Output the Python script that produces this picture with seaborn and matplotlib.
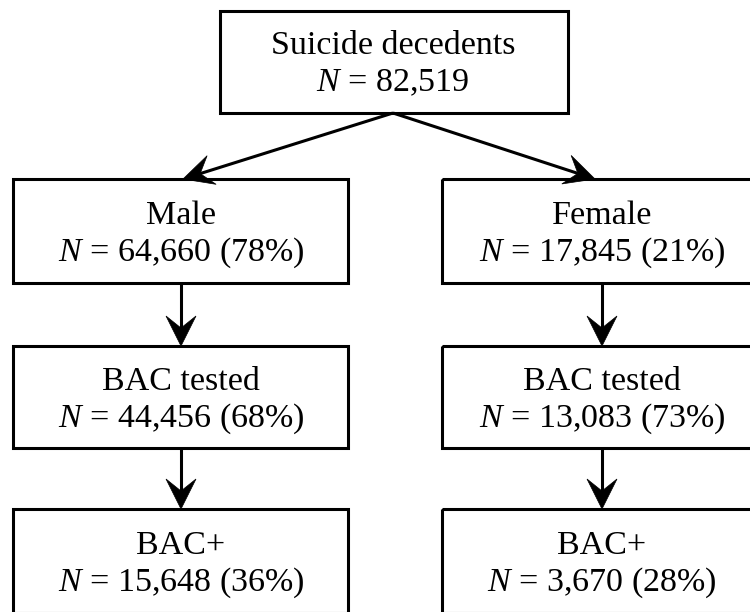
import numpy as np
import pandas as pd
import seaborn as sns
import matplotlib
matplotlib.use("Agg")
import matplotlib.pyplot as plt
from matplotlib.patches import Rectangle, Polygon

sns.set_theme(style="white")
plt.rcParams['font.family'] = ['Liberation Serif', 'DejaVu Serif']
plt.rcParams['mathtext.fontset'] = 'custom'
plt.rcParams['mathtext.rm'] = 'Liberation Serif'
plt.rcParams['mathtext.it'] = 'Liberation Serif:italic'

# ---- data ----
node_titles = ["Suicide decedents", "Male", "Female", "BAC tested", "BAC tested", "BAC+", "BAC+"]
node_counts = [82519, 64660, 17845, 44456, 13083, 15648, 3670]
node_pcts = [None, 78, 21, 68, 73, 36, 28]
edges = [(0, 1), (0, 2), (1, 3), (2, 4), (3, 5), (4, 6)]

# ---- layout (pixel space) ----
W, H = 750, 612
# node: (box_left, box_right, box_top, box_bottom, text_x)
boxes = {
    0: (220, 568, 11, 113, 393),
    1: (13, 348, 179, 283, 181),
    2: (442, 777, 179, 283, 602),
    3: (13, 348, 346, 448, 181),
    4: (442, 777, 346, 448, 602),
    5: (13, 348, 509, 613, 181),
    6: (442, 777, 509, 613, 602),
}
lw = 2.2
fs = 24.5

fig = plt.figure(figsize=(W / 100, H / 100), dpi=100)
ax = fig.add_axes([0, 0, 1, 1])
ax.set_xlim(0, W)
ax.set_ylim(H, 0)
ax.axis('off')

for i, (t, n, p) in enumerate(zip(node_titles, node_counts, node_pcts)):
    l, r, tp, bt, tx = boxes[i]
    ax.add_patch(Rectangle((l, tp), r - l, bt - tp, fill=False, ec='black', lw=lw, zorder=2))
    cy = (tp + bt) / 2
    line2 = r"$N$ = " + f"{n:,}" + ("" if p is None else f" ({p}%)")
    ax.text(tx, cy - 7.5, t, ha='center', va='baseline', fontsize=fs, color='black')
    ax.text(tx, cy + 29.5, line2, ha='center', va='baseline', fontsize=fs, color='black')


def arrow(x0, y0, x1, y1, hl=30, hw=15, notch=12):
    d = np.array([x1 - x0, y1 - y0], float)
    L = np.hypot(*d)
    u = d / L
    nrm = np.array([-u[1], u[0]])
    tip = np.array([x1, y1], float)
    back = tip - u * hl
    wing1 = back + nrm * hw
    wing2 = back - nrm * hw
    notchp = tip - u * (hl - notch)
    ax.plot([x0, notchp[0]], [y0, notchp[1]], color='black', lw=lw, solid_capstyle='butt', zorder=3)
    ax.add_patch(Polygon([tip, wing1, notchp, wing2], closed=True, fc='black', ec='black', lw=0.5, zorder=4))


for a, b in edges:
    la, ra, ta, ba, xa = boxes[a]
    lb, rb, tb, bb, xb = boxes[b]
    if a == 0:
        tipx = 183 if b == 1 else 595
        arrow(xa, ba, tipx, tb)
    else:
        arrow(xa, ba, xb, tb)

fig.savefig("out.png", dpi=100, facecolor='white')
